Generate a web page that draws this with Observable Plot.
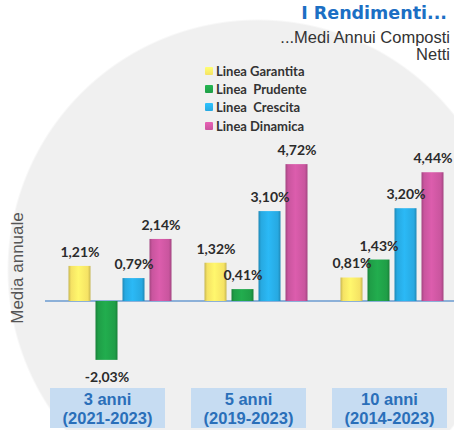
<!DOCTYPE html>
<html><head><meta charset="utf-8">
<script src="https://cdn.jsdelivr.net/npm/d3@7"></script>
<script src="https://cdn.jsdelivr.net/npm/@observablehq/plot@0.6"></script>
<style>
body{margin:0;background:#fff;}
#wrap{position:relative;width:454px;height:430px;overflow:hidden;
  background:radial-gradient(circle 250px at 258px 270px,#f0f0f0 249px,#ffffff 251px);
  font-family:"Liberation Sans",Arial,sans-serif;}
#chart{position:absolute;left:0;top:0;}
#title{position:absolute;right:7px;top:3px;font-family:"DejaVu Sans",sans-serif;font-weight:bold;font-size:17.5px;color:#1c6fc4;}
#sub{position:absolute;right:4px;top:29px;font-size:16.5px;line-height:17px;color:#333;text-align:right;}
#legend{position:absolute;left:205px;top:62px;font-family:Lato,"Open Sans",sans-serif;font-weight:bold;font-size:13px;color:#333;white-space:pre;}
#legend .row{height:18.2px;display:flex;align-items:center;}
#legend .sw{width:8px;height:8px;margin-right:3px;border-radius:1px;}
#ylab{position:absolute;left:18px;top:268px;transform:translate(-50%,-50%) rotate(-90deg);font-size:17px;color:#555;white-space:nowrap;}
.cat{position:absolute;top:388px;height:40px;width:115px;background:#c6dcf2;color:#2a6fb9;font-weight:bold;font-size:16.5px;text-align:center;box-sizing:border-box;}
.cat div{position:absolute;left:0;right:0;height:18px;line-height:18px;}
</style></head>
<body>
<div id="wrap">
  <div id="chart"></div>
  <div id="title">I Rendimenti...</div>
  <div id="sub">...Medi Annui Composti<br>Netti</div>
  <div id="legend"></div>
  <div id="ylab">Media annuale</div>
</div>
<script>
const periods = ["3 anni", "5 anni", "10 anni"];
const periodYears = ["(2021-2023)", "(2019-2023)", "(2014-2023)"];
const lines = ["Linea Garantita", "Linea  Prudente", "Linea  Crescita", "Linea Dinamica"];
const garantita = [1.21, 1.32, 0.81];
const prudente = [-2.03, 0.41, 1.43];
const crescita = [0.79, 3.10, 3.20];
const dinamica = [2.14, 4.72, 4.44];
const lineColors = ["#f5e264", "#1f9e47", "#27a9e1", "#c9559e"];

const seriesValues = [garantita, prudente, crescita, dinamica];
const rows = [];
periods.forEach((p, i) => lines.forEach((l, j) => rows.push({period: p, line: l, value: seriesValues[j][i]})));
const gradIds = lines.map((l, j) => "grad" + j);
const fmt = v => v.toFixed(2).replace(".", ",") + "%";
const labelFont = {fontFamily: "Lato, 'Open Sans', sans-serif", fontWeight: "bold", fontSize: 14, fill: "#2b2b2b"};

const chart = Plot.plot({
  width: 454, height: 430,
  marginLeft: 63.5, marginRight: 4.6, marginTop: 156, marginBottom: 56.5,
  fx: {domain: periods, paddingInner: 0.17, paddingOuter: 0, axis: null, label: null},
  x: {domain: lines, padding: 0.185, axis: null},
  y: {domain: [-2.5, 5], axis: null},
  color: {domain: lines, range: gradIds.map(id => `url(#${id})`)},
  style: {background: "transparent", overflow: "visible"},
  marks: [
    Plot.barY(rows, {fx: "period", x: "line", y: "value", fill: "line"}),
    Plot.text(rows.filter(d => d.value >= 0), {fx: "period", x: "line", y: "value", text: d => fmt(d.value), dy: -14, ...labelFont}),
    Plot.text(rows.filter(d => d.value < 0), {fx: "period", x: "line", y: "value", text: d => fmt(d.value), dy: 17, ...labelFont})
  ]
});
document.getElementById("chart").appendChild(chart);

const svg = d3.select(chart);
const defs = svg.insert("defs", ":first-child");
lineColors.forEach((c, j) => {
  const base = d3.color(c);
  const g = defs.append("linearGradient").attr("id", gradIds[j]).attr("x1", 0).attr("x2", 1).attr("y1", 0).attr("y2", 0);
  g.append("stop").attr("offset", "0%").attr("stop-color", base.darker(0.6));
  g.append("stop").attr("offset", "12%").attr("stop-color", base);
  g.append("stop").attr("offset", "45%").attr("stop-color", base.brighter(0.25));
  g.append("stop").attr("offset", "88%").attr("stop-color", base);
  g.append("stop").attr("offset", "100%").attr("stop-color", base.darker(0.6));
});

// zero line behind the bars
const y0 = chart.scale("y").apply(0);
svg.insert("line", "g[aria-label]")
  .attr("x1", 45).attr("x2", 454).attr("y1", y0).attr("y2", y0)
  .attr("stroke", "#6b9bd1").attr("stroke-width", 1.3);

// legend
const legend = d3.select("#legend");
lines.forEach((l, j) => {
  const r = legend.append("div").attr("class", "row");
  r.append("div").attr("class", "sw").style("background", `linear-gradient(${d3.color(lineColors[j]).brighter(0.4)}, ${lineColors[j]})`);
  r.append("span").text(l);
});

// category boxes under each group
let fxs = null;
try { fxs = chart.scale("fx"); } catch (e) {}
const wrap = d3.select("#wrap");
periods.forEach((p, i) => {
  let center;
  if (fxs && fxs.apply) center = fxs.apply(p) + fxs.bandwidth / 2;
  else center = 63.5 + 56.5 + i * 136.5;
  const box = wrap.append("div").attr("class", "cat").style("left", (center - 8 + (i - 1) * 5 - 57.5) + "px");
  box.append("div").style("top", "1.5px").text(p);
  box.append("div").style("top", "20.5px").text(periodYears[i]);
});
</script>
</body></html>
